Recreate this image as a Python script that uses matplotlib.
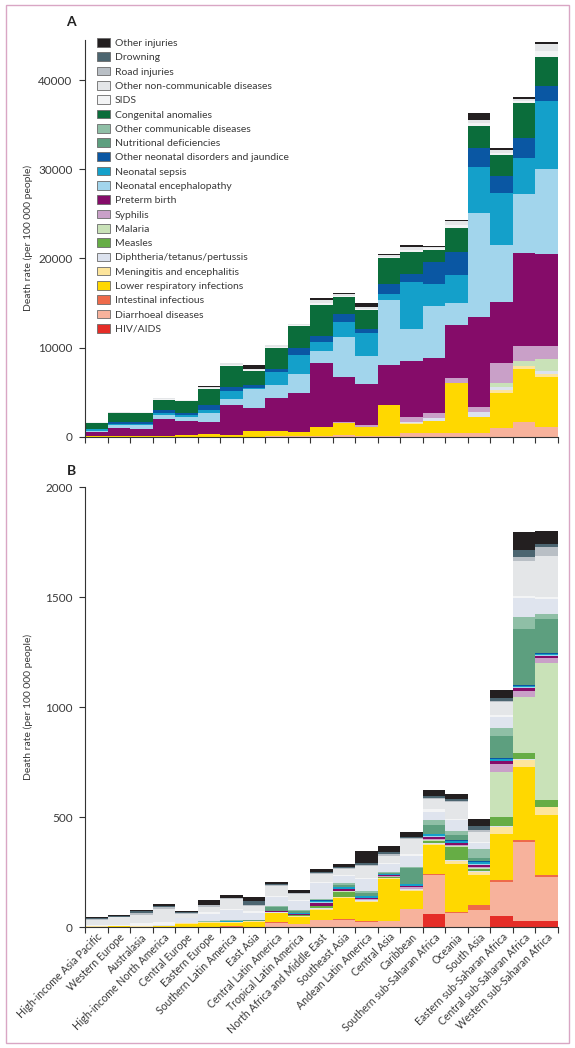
import numpy as np
import matplotlib
matplotlib.use("Agg")
import matplotlib.pyplot as plt
from matplotlib.patches import Patch, Rectangle

plt.rcParams['font.family'] = ['Lato', 'DejaVu Sans']

regions = ["High-income Asia Pacific", "Western Europe", "Australasia",
           "High-income North America", "Central Europe", "Eastern Europe",
           "Southern Latin America", "East Asia", "Central Latin America",
           "Tropical Latin America", "North Africa and Middle East",
           "Southeast Asia", "Andean Latin America", "Central Asia", "Caribbean",
           "Southern sub-Saharan Africa", "Oceania", "South Asia",
           "Eastern sub-Saharan Africa", "Central sub-Saharan Africa",
           "Western sub-Saharan Africa"]

# causes, bottom of the stack first
causes = ["HIV/AIDS", "Diarrhoeal diseases", "Intestinal infectious",
          "Lower respiratory infections", "Meningitis and encephalitis",
          "Diphtheria/tetanus/pertussis", "Measles", "Malaria", "Syphilis",
          "Preterm birth", "Neonatal encephalopathy", "Neonatal sepsis",
          "Other neonatal disorders and jaundice", "Nutritional deficiencies",
          "Other communicable diseases", "Congenital anomalies", "SIDS",
          "Other non-communicable diseases", "Road injuries", "Drowning",
          "Other injuries"]

colors = ["#e52d27", "#f7b29c", "#ee6a4a", "#ffd800", "#fde59c", "#dce2ee",
          "#66ad45", "#c9e2b8", "#c9a0c8", "#850c69", "#a2d5ec", "#14a0ca",
          "#0a57a3", "#5d9f7f", "#8fbfa6", "#0b6d3b", "#f3f4f5", "#e4e6e8",
          "#b9bfc5", "#4c6570", "#231f20"]

# panel A: death rate per 100000 (neonatal)
a_hiv = [0] * 21
a_diarrhoea = [5, 5, 5, 10, 10, 10, 20, 20, 30, 30, 120, 190, 75, 50, 370, 450, 370, 370, 930, 1680, 1120]
a_intestinal = [0] * 21
a_lri = [20, 20, 20, 30, 200, 300, 190, 620, 650, 490, 1000, 1300, 970, 3550, 1050, 1350, 5610, 1870, 4000, 5870, 5610]
a_meningitis = [0, 0, 0, 0, 0, 0, 0, 0, 0, 0, 0, 0, 0, 0, 100, 0, 0, 0, 300, 370, 260]
a_dtp = [0, 0, 0, 0, 0, 0, 0, 0, 0, 0, 0, 0, 0, 0, 100, 250, 0, 560, 370, 0, 370]
a_measles = [0] * 21
a_malaria = [0, 0, 0, 0, 0, 0, 0, 0, 0, 0, 0, 0, 0, 0, 0, 0, 0, 0, 370, 600, 1310]
a_syphilis = [0, 0, 0, 0, 0, 0, 0, 0, 0, 0, 0, 120, 260, 0, 550, 560, 640, 560, 2240, 1650, 1500]
a_preterm = [500, 1000, 850, 1950, 1600, 1380, 3360, 2560, 3660, 4370, 7180, 5120, 4600, 4490, 6350, 6160, 5900, 10100, 6920, 10390, 10310]
a_enceph = [150, 250, 450, 450, 350, 940, 640, 2150, 1500, 2130, 1310, 4410, 3140, 7290, 3550, 5870, 2510, 11580, 6360, 6650, 9540]
a_sepsis = [150, 200, 150, 200, 250, 370, 970, 100, 1390, 2170, 1040, 1680, 2540, 630, 5240, 2430, 3100, 5240, 5790, 4000, 7660]
a_other_neonatal = [50, 200, 200, 300, 250, 560, 370, 330, 370, 740, 680, 940, 450, 1120, 930, 2470, 2620, 2050, 1940, 2240, 1640]
a_nutritional = [0] * 21
a_other_comm = [0] * 21
a_congenital = [700, 950, 1000, 1200, 1350, 1760, 2390, 1620, 2350, 2430, 3440, 1940, 2160, 2920, 2430, 1380, 2690, 2510, 2360, 3930, 3220]
a_sids = [30, 50, 60, 80, 60, 150, 150, 100, 150, 130, 280, 130, 150, 150, 300, 200, 350, 330, 280, 250, 750]
a_other_ncd = [30, 40, 60, 80, 50, 150, 150, 100, 200, 140, 280, 130, 150, 150, 300, 150, 350, 340, 280, 240, 750]
a_road = [0] * 21
a_drowning = [0] * 21
a_injuries = [20, 0, 30, 40, 0, 70, 0, 450, 0, 0, 260, 190, 450, 110, 190, 100, 190, 820, 190, 190, 190]

# panel B: death rate per 100000 (post-neonatal)
b_hiv = [0, 0, 0, 1, 0, 0, 0, 0, 0, 0, 0, 0, 0, 0, 2, 60, 2, 1, 52, 30, 30]
b_diarrhoea = [1, 1, 1, 1, 2, 2, 3, 3, 21, 16, 33, 33, 26, 28, 80, 177, 62, 78, 152, 356, 197]
b_intestinal = [0, 0, 0, 0, 0, 0, 1, 0, 1, 1, 2, 3, 2, 2, 3, 7, 7, 22, 10, 11, 10]
b_lri = [2, 3, 2, 3, 14, 18, 15, 22, 42, 32, 45, 95, 88, 190, 80, 129, 218, 136, 212, 330, 273]
b_meningitis = [1, 1, 1, 1, 2, 2, 3, 3, 3, 2, 5, 5, 4, 4, 4, 6, 12, 15, 28, 33, 35]
b_dtp = [0, 0, 1, 0, 1, 2, 0, 2, 2, 2, 3, 3, 3, 2, 3, 5, 4, 5, 4, 3, 3]
b_measles = [0, 0, 0, 0, 0, 0, 0, 0, 1, 1, 8, 22, 2, 2, 2, 6, 58, 8, 45, 30, 30]
b_malaria = [0, 0, 0, 0, 0, 0, 0, 0, 0, 0, 1, 2, 1, 1, 1, 6, 6, 3, 204, 254, 622]
b_syphilis = [0, 0, 0, 0, 0, 0, 1, 0, 1, 1, 2, 3, 2, 2, 6, 7, 5, 6, 36, 26, 22]
b_preterm = [0, 0, 0, 0, 0, 0, 2, 0, 2, 5, 12, 8, 6, 6, 6, 7, 7, 10, 11, 15, 11]
b_enceph = [0, 0, 0, 0, 0, 0, 0, 0, 0, 1, 2, 2, 1, 1, 2, 3, 3, 3, 3, 3, 2]
b_sepsis = [0, 0, 0, 0, 0, 0, 2, 0, 2, 4, 6, 6, 6, 4, 6, 10, 8, 8, 8, 6, 5]
b_other_neonatal = [0, 0, 0, 0, 0, 0, 1, 0, 1, 1, 3, 3, 2, 2, 3, 3, 3, 6, 5, 5, 4]
b_nutritional = [0, 0, 0, 0, 0, 2, 2, 2, 14, 6, 3, 8, 14, 3, 72, 38, 24, 15, 100, 253, 156]
b_other_comm = [1, 0, 0, 2, 2, 3, 4, 3, 7, 6, 5, 6, 6, 3, 6, 23, 17, 40, 36, 53, 23]
b_congenital = [3, 3, 3, 4, 20, 33, 45, 31, 42, 42, 70, 35, 55, 38, 50, 38, 50, 25, 50, 88, 68]
b_sids = [2, 2, 10, 10, 3, 6, 6, 6, 3, 3, 5, 5, 5, 4, 6, 12, 8, 8, 8, 11, 8]
b_other_ncd = [25, 35, 40, 60, 18, 26, 42, 27, 45, 28, 35, 25, 55, 34, 70, 45, 76, 45, 60, 159, 189]
b_road = [3, 4, 7, 8, 4, 6, 5, 4, 5, 4, 6, 5, 4, 5, 5, 6, 5, 8, 6, 18, 41]
b_drowning = [3, 3, 7, 7, 2, 2, 3, 15, 3, 3, 3, 5, 8, 12, 4, 8, 8, 18, 10, 32, 12]
b_injuries = [5, 3, 7, 9, 5, 22, 13, 18, 12, 10, 17, 13, 56, 28, 24, 27, 24, 30, 36, 79, 58]

panel_a = [a_hiv, a_diarrhoea, a_intestinal, a_lri, a_meningitis, a_dtp, a_measles,
           a_malaria, a_syphilis, a_preterm, a_enceph, a_sepsis, a_other_neonatal,
           a_nutritional, a_other_comm, a_congenital, a_sids, a_other_ncd, a_road,
           a_drowning, a_injuries]
panel_b = [b_hiv, b_diarrhoea, b_intestinal, b_lri, b_meningitis, b_dtp, b_measles,
           b_malaria, b_syphilis, b_preterm, b_enceph, b_sepsis, b_other_neonatal,
           b_nutritional, b_other_comm, b_congenital, b_sids, b_other_ncd, b_road,
           b_drowning, b_injuries]

# in panel B the congenital band is printed pale
colors_b = list(colors)
colors_b[causes.index("Congenital anomalies")] = "#dfe4ee"

text_col = "#3a3a3a"
fig = plt.figure(figsize=(5.75, 10.48), dpi=100)
fig.patches.append(Rectangle((6 / 575, 5 / 1048), 563 / 575, 1038 / 1048,
                             transform=fig.transFigure, fill=False,
                             edgecolor="#d9a6c4", linewidth=1.0))

ax_a = fig.add_axes([85 / 575, 611.3 / 1048, 473 / 575, 396.8 / 1048])
ax_b = fig.add_axes([85 / 575, 120.7 / 1048, 473 / 575, 440.3 / 1048])

x = np.arange(len(regions))


def draw(ax, data, cols):
    bottom = np.zeros(len(regions))
    for vals, c in zip(data, cols):
        vals = np.array(vals, dtype=float)
        ax.bar(x, vals, width=1.0, bottom=bottom, color=c, linewidth=0)
        bottom += vals
    ax.set_xlim(-0.5, len(regions) - 0.5)
    for s in ["top", "right"]:
        ax.spines[s].set_visible(False)
    for s in ["left", "bottom"]:
        ax.spines[s].set_color("#333333")
        ax.spines[s].set_linewidth(0.8)
    ax.set_xticks(np.arange(-0.5, len(regions)), labels=[])
    ax.tick_params(axis="x", which="major", length=4, width=0.8, color="#333333")
    ax.tick_params(axis="y", length=4, width=0.8, color="#333333",
                   labelsize=8.5, labelcolor=text_col, pad=5)
    ax.set_ylabel("Death rate (per 100 000 people)", fontsize=7.5, color=text_col)
    ax.yaxis.set_label_coords(-0.11, 0.5)


draw(ax_a, panel_a, colors)
ax_a.set_ylim(0, 44500)
ax_a.set_yticks([0, 10000, 20000, 30000, 40000])

draw(ax_b, panel_b, colors_b)
ax_b.set_ylim(0, 2000)
ax_b.set_yticks([0, 500, 1000, 1500, 2000])
ax_b.set_xticks(x, labels=regions, minor=True)
ax_b.tick_params(axis="x", which="minor", length=0, pad=3, labelsize=7.6,
                 labelcolor=text_col)
for lab in ax_b.get_xticklabels(minor=True):
    lab.set_rotation(45)
    lab.set_ha("right")
    lab.set_rotation_mode("anchor")

handles = [Patch(facecolor=c, edgecolor="#6a6a6a", linewidth=0.6, label=n)
           for c, n in zip(colors, causes)][::-1]
fig.legend(handles=handles, loc="upper left", bbox_to_anchor=(93 / 575, 1 - 34 / 1048),
           frameon=False, fontsize=7.5, handlelength=1.2, handleheight=0.9,
           handletextpad=0.5, labelspacing=0.42, borderaxespad=0, labelcolor=text_col)

fig.text(71 / 575, 1 - 22 / 1048, "A", fontsize=10, fontweight="bold",
         color="#222222", ha="center", va="center")
fig.text(71 / 575, 1 - 471 / 1048, "B", fontsize=10, fontweight="bold",
         color="#222222", ha="center", va="center")

fig.savefig("out.png", dpi=100)
